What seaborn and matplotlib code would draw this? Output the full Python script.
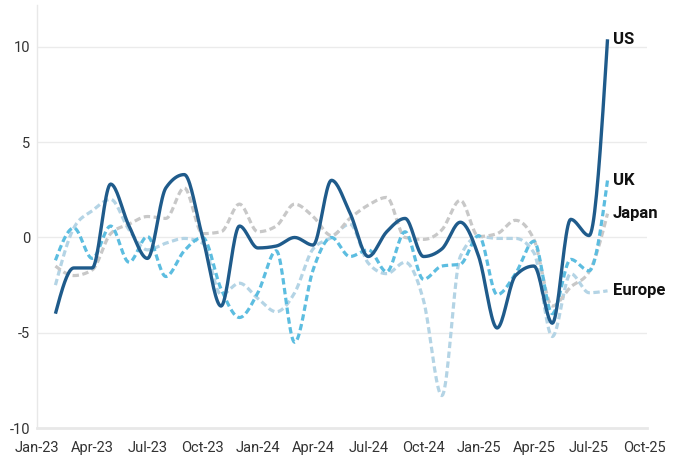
import numpy as np
import pandas as pd
import matplotlib
matplotlib.use("Agg")
import matplotlib.pyplot as plt
import seaborn as sns

# monthly values, Feb-23 .. Aug-25
months = pd.period_range("2023-02", "2025-08", freq="M")
us = [-4.0, -1.6, -1.6, 2.8, 0.6, -1.1, 2.6, 3.3, 0.0, -3.6, 0.6, -0.55,
      -0.45, 0.0, -0.4, 3.0, 1.3, -1.0, 0.3, 1.0, -1.0, -0.6, 0.8, -1.0,
      -4.75, -2.0, -1.5, -4.5, 0.95, 0.1, 10.4]
uk = [-1.2, 0.5, -1.1, 0.6, -1.3, 0.05, -2.05, -0.7, 0.0, -2.7, -4.2, -2.9,
      -0.7, -5.5, -1.7, 0.0, -1.0, -0.65, -1.8, 0.3, -2.2, -1.5, -1.4, 0.1,
      -3.0, -1.9, -0.2, -4.0, -1.15, -1.75, 3.0]
japan = [-1.5, -2.0, -1.7, 0.2, 0.7, 1.1, 1.0, 2.6, 0.2, 0.3, 1.75, 0.3,
         0.6, 1.75, 1.1, 0.1, 1.0, 1.7, 2.1, 0.0, -0.1, 0.4, 1.95, 0.05,
         0.2, 0.9, -0.1, -3.6, -2.6, -1.8, 1.25]
europe = [-2.5, 0.5, 1.4, 2.0, 0.4, -0.65, -0.3, -0.05, -0.3, -3.0, -2.4, -3.2,
          -3.9, -2.9, -0.6, 0.0, 0.7, -1.35, -1.9, -1.3, -3.3, -8.3, -1.0, 0.05,
          -0.05, -0.05, -0.8, -5.2, -1.9, -2.9, -2.8]

tick_labels = ["Jan-23", "Apr-23", "Jul-23", "Oct-23", "Jan-24", "Apr-24",
               "Jul-24", "Oct-24", "Jan-25", "Apr-25", "Jul-25", "Oct-25"]

# month number counted from Jan-23
x = np.array([(p.year - 2023) * 12 + p.month - 1 for p in months], dtype=float)


def monotone_curve(xs, ys, steps=20):
    # monotone cubic (like d3 curveMonotoneX) just for drawing
    ys = np.asarray(ys, dtype=float)
    h = np.diff(xs)
    s = np.diff(ys) / h
    m = np.zeros_like(ys)
    for i in range(1, len(ys) - 1):
        s0, s1 = s[i - 1], s[i]
        p = (s0 * h[i] + s1 * h[i - 1]) / (h[i - 1] + h[i])
        m[i] = (np.sign(s0) + np.sign(s1)) * min(abs(s0), abs(s1), 0.5 * abs(p))
    m[0] = (3 * s[0] - m[1]) / 2
    m[-1] = (3 * s[-1] - m[-2]) / 2
    out_x, out_y = [], []
    for i in range(len(ys) - 1):
        t = np.linspace(0, 1, steps, endpoint=False)
        h00 = 2 * t**3 - 3 * t**2 + 1
        h10 = t**3 - 2 * t**2 + t
        h01 = -2 * t**3 + 3 * t**2
        h11 = t**3 - t**2
        out_x.append(xs[i] + t * h[i])
        out_y.append(h00 * ys[i] + h10 * h[i] * m[i] + h01 * ys[i + 1] + h11 * h[i] * m[i + 1])
    out_x.append([xs[-1]])
    out_y.append([ys[-1]])
    return np.concatenate(out_x), np.concatenate(out_y)


sns.set_theme(style="white")
plt.rcParams["font.family"] = ["Roboto", "DejaVu Sans"]

fig = plt.figure(figsize=(6.87, 4.66), dpi=100)
ax = fig.add_axes([0.0539, 0.0815, 0.888, 0.9078])

series = [
    ("Europe", europe, "#b4d4e5", (2, 1.1), 2.3),
    ("Japan", japan, "#c8c8c8", (2, 1.1), 2.3),
    ("UK", uk, "#5cbde0", (2, 1.1), 2.3),
    ("US", us, "#1f5b8b", None, 2.4),
]

for name, vals, color, dash, lw in series:
    sx, sy = monotone_curve(x, vals)
    sns.lineplot(x=sx, y=sy, ax=ax, color=color, linewidth=lw, sort=False,
                 estimator=None)
    if dash is not None:
        ax.lines[-1].set_dashes(dash)
    ax.lines[-1].set_solid_capstyle("butt")
    ax.text(x[-1] + 0.3, vals[-1], name, fontsize=12, fontweight="bold",
            color="#111111", va="center", ha="left")

ax.set_xlim(0, 33.15)
ax.set_ylim(-10, 12.2)
ax.set_xticks(range(0, 34, 3))
ax.set_xticklabels(tick_labels)
ax.set_yticks([-10, -5, 0, 5, 10])
ax.set_yticklabels(["-10", "-5", "0", "5", "10"])
ax.tick_params(axis="both", length=0, labelsize=10.5, colors="#333333")
ax.tick_params(axis="x", pad=9)
ax.tick_params(axis="y", pad=5)
ax.set_xlabel("")
ax.set_ylabel("")

for v in [-5, 0, 5, 10]:
    ax.axhline(v, color="#ebebeb", linewidth=1, zorder=0)

sns.despine(ax=ax, top=True, right=True)
ax.spines["left"].set_color("#e8e8e8")
ax.spines["left"].set_linewidth(1)
ax.spines["bottom"].set_color("#e8e8e8")
ax.spines["bottom"].set_linewidth(2)

fig.savefig("out.png", dpi=100)
